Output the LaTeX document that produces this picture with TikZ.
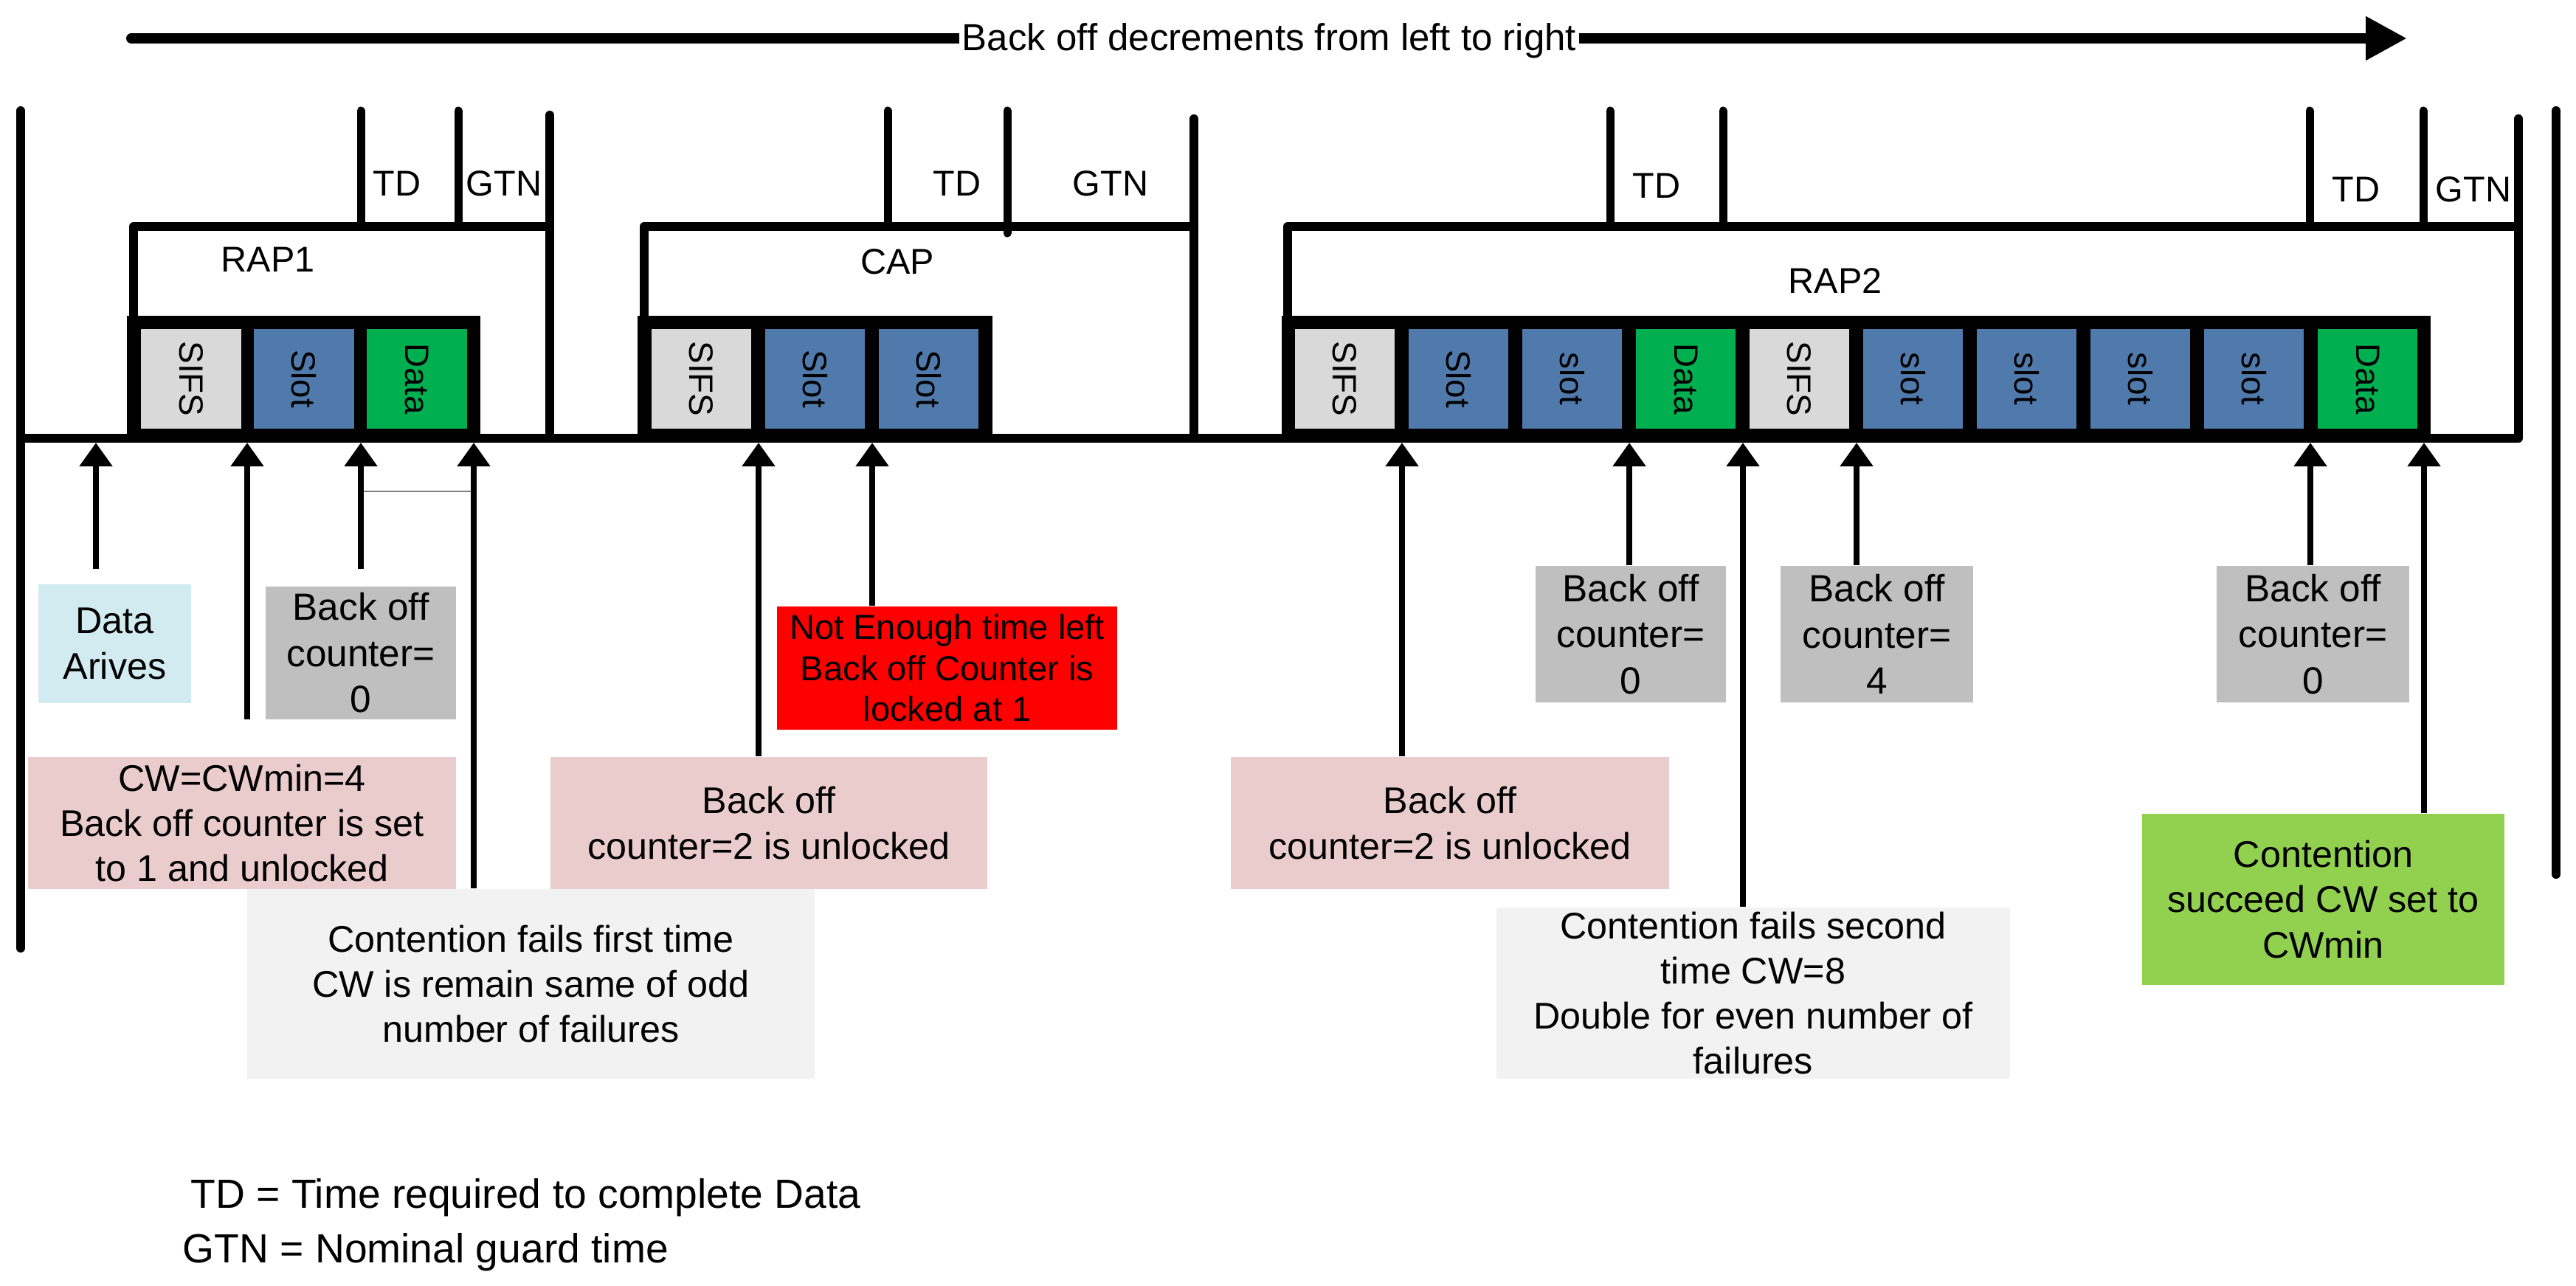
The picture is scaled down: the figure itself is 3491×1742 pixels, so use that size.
\documentclass[tikz,border=0pt]{standalone}
\usepackage{fontspec}
\setmainfont{Liberation Sans}
\usetikzlibrary{arrows.meta}
\definecolor{sifsgray}{HTML}{D9D9D9}
\definecolor{slotblue}{HTML}{507AAC}
\definecolor{datagreen}{HTML}{00B050}
\definecolor{pinkbox}{HTML}{EBCCCC}
\definecolor{bluebox}{HTML}{D2EBF1}
\definecolor{graybox}{HTML}{BFBFBF}
\definecolor{lgraybox}{HTML}{F2F2F2}
\definecolor{redbox}{HTML}{FF0000}
\definecolor{greenbox}{HTML}{92D050}
\tikzset{
  frameline/.style={line width=0.12cm, line cap=round, line join=round},
  tickline/.style={line width=0.11cm, line cap=round},
  cellbox/.style={minimum width=1.35cm, minimum height=1.35cm, inner sep=0pt, rotate=-90, font=\fontsize{13}{15}\selectfont},
  sifs/.style={cellbox, fill=sifsgray},
  slotc/.style={cellbox, fill=slotblue},
  datac/.style={cellbox, fill=datagreen},
  note/.style={inner sep=0pt, align=center, font=\fontsize{14.3}{17.4}\selectfont},
  grnote/.style={note, fill=graybox, font=\fontsize{14.6}{17.8}\selectfont},
  lbl/.style={inner sep=0pt, font=\fontsize{13.8}{16}\selectfont},
  uparr/.style={line width=0.085cm, -{Triangle[length=0.32cm, width=0.43cm]}},
  legendtxt/.style={anchor=west, inner sep=0pt, font=\fontsize{15.7}{19}\selectfont},
}
\begin{document}
\begin{tikzpicture}[x=0.01cm, y=-0.01cm]
\useasboundingbox (0,0) rectangle (3491,1742);

% top arrow
\coordinate (ts) at (178,52);
\coordinate (te) at (3262,52);
\draw[line width=0.14cm, line cap=round, -{Triangle[length=0.56cm, width=0.56cm]}] (ts) -- (te);
\node[fill=white, inner xsep=0.04cm, inner ysep=0.02cm, font=\fontsize{14.5}{17}\selectfont] (ttl) at (1720,55) {Back off decrements from left to right};

% frame lines
\draw[frameline] (28,150) -- (28,1285);
\draw[frameline] (3464,150) -- (3464,1185);
\draw[frameline] (28,594) -- (3413,594) -- (3413,161);

% RAP1 bracket
\draw[frameline] (181,428) -- (181,307) -- (745,307);
\draw[frameline] (745,156) -- (745,594);
\draw[tickline] (489,150) -- (489,307);
\draw[tickline] (621,150) -- (621,307);
% CAP bracket
\draw[frameline] (873,428) -- (873,307) -- (1618,307);
\draw[frameline] (1618,161) -- (1618,594);
\draw[tickline] (1203,150) -- (1203,307);
\draw[tickline] (1365,150) -- (1365,316);
% RAP2 bracket
\draw[frameline] (1745,428) -- (1745,307) -- (3413,307);
\draw[tickline] (2182,150) -- (2182,307);
\draw[tickline] (2335,150) -- (2335,307);
\draw[tickline] (3130,150) -- (3130,307);
\draw[tickline] (3284,150) -- (3284,307);

% labels
\node[lbl] (td1) at (538,249) {TD};
\node[lbl] (gtn1) at (683,249) {GTN};
\node[lbl] (rap1) at (363,352) {RAP1};
\node[lbl] (td2) at (1297,249) {TD};
\node[lbl] (gtn2) at (1505,249) {GTN};
\node[lbl] (cap) at (1216,355) {CAP};
\node[lbl] (td3) at (2245,252) {TD};
\node[lbl] (rap2) at (2487,381) {RAP2};
\node[lbl] (td4) at (3193,257) {TD};
\node[lbl] (gtn4) at (3352,257) {GTN};

% slot boxes
\fill[black] (172,428) rectangle (651,600);
\node[sifs]  (a1) at (259,513.5) {SIFS};
\node[slotc] (a2) at (412,513.5) {Slot};
\node[datac] (a3) at (565,513.5) {Data};

\fill[black] (864,428) rectangle (1345,600);
\node[sifs]  (b1) at (950.5,513.5) {SIFS};
\node[slotc] (b2) at (1104.5,513.5) {Slot};
\node[slotc] (b3) at (1258.5,513.5) {Slot};

\fill[black] (1737,428) rectangle (3294,600);
\node[sifs]  (c1) at (1822.5,513.5) {SIFS};
\node[slotc] (c2) at (1976.5,513.5) {Slot};
\node[slotc] (c3) at (2130.5,513.5) {slot};
\node[datac] (c4) at (2284.5,513.5) {Data};
\node[sifs]  (c5) at (2438.5,513.5) {SIFS};
\node[slotc] (c6) at (2592.5,513.5) {slot};
\node[slotc] (c7) at (2746.5,513.5) {slot};
\node[slotc] (c8) at (2900.5,513.5) {slot};
\node[slotc] (c9) at (3054.5,513.5) {slot};
\node[datac] (c10) at (3208.5,513.5) {Data};

% annotation boxes
\node[note, fill=bluebox, minimum width=2.07cm, minimum height=1.61cm] (da) at (155.5,872.5) {Data\\Arives};
\node[grnote, minimum width=2.58cm, minimum height=1.80cm] (g1) at (489,885) {Back off\\counter=\\0};
\node[note, fill=pinkbox, minimum width=5.80cm, minimum height=1.79cm] (p1) at (328,1115.5) {CW=CWmin=4\\Back off counter is set\\to 1 and unlocked};
\node[note, fill=lgraybox, minimum width=7.69cm, minimum height=2.57cm] (lg1) at (719.5,1333.5) {Contention fails first time\\CW is remain same of odd\\number of failures};
\node[note, fill=pinkbox, minimum width=5.92cm, minimum height=1.79cm] (p2) at (1042,1115.5) {Back off\\counter=2 is unlocked};
\node[note, fill=redbox, minimum width=4.61cm, minimum height=1.67cm, font=\fontsize{13.4}{15.8}\selectfont] (rd) at (1283.5,905.5) {Not Enough time left\\Back off Counter is\\locked at 1};
\node[note, fill=pinkbox, minimum width=5.94cm, minimum height=1.79cm] (p3) at (1965,1115.5) {Back off\\counter=2 is unlocked};
\node[grnote, minimum width=2.58cm, minimum height=1.85cm] (g2) at (2210,859.5) {Back off\\counter=\\0};
\node[grnote, minimum width=2.61cm, minimum height=1.85cm] (g3) at (2543.5,859.5) {Back off\\counter=\\4};
\node[grnote, minimum width=2.61cm, minimum height=1.85cm] (g4) at (3134.5,859.5) {Back off\\counter=\\0};
\node[note, fill=lgraybox, minimum width=6.96cm, minimum height=2.32cm] (lg2) at (2376,1346) {Contention fails second\\time CW=8\\Double for even number of\\failures};
\node[note, fill=greenbox, minimum width=4.91cm, minimum height=2.32cm] (gr) at (3148.5,1219) {Contention\\succeed CW set to\\CWmin};

% arrow tips at the timeline
\coordinate (t1) at (130,600);
\coordinate (t2) at (335,600);
\coordinate (t3) at (489,600);
\coordinate (t4) at (642,600);
\coordinate (t5) at (1028,600);
\coordinate (t6) at (1182,600);
\coordinate (t7) at (1900,600);
\coordinate (t8) at (2208,600);
\coordinate (t9) at (2362,600);
\coordinate (t10) at (2516,600);
\coordinate (t11) at (3131,600);
\coordinate (t12) at (3285,600);

\draw[uparr, shorten <=0.2cm] (t1 |- da.north) -- (t1);
\draw[uparr, shorten <=0.5cm] (t2 |- p1.north) -- (t2);
\draw[uparr, shorten <=0.23cm] (t3 |- g1.north) -- (t3);
\draw[uparr] (t4 |- lg1.north) -- (t4);
\draw[uparr] (t5 |- p2.north) -- (t5);
\draw[uparr] (t6 |- rd.north) -- (t6);
\draw[uparr] (t7 |- p3.north) -- (t7);
\draw[uparr] (t8 |- g2.north) -- (t8);
\draw[uparr] (t9 |- lg2.north) -- (t9);
\draw[uparr] (t10 |- g3.north) -- (t10);
\draw[uparr] (t11 |- g4.north) -- (t11);
\draw[uparr] (t12 |- gr.north) -- (t12);

% thin line between arrows
\coordinate (m3) at (493,666);
\coordinate (m4) at (638,666);
\draw[gray, line width=0.6pt] (m3) -- (m4);

% legend
\node[legendtxt] (leg1) at (258,1623) {TD = Time required to complete Data};
\node[legendtxt] (leg2) at (247,1697) {GTN = Nominal guard time};
\end{tikzpicture}
\end{document}
